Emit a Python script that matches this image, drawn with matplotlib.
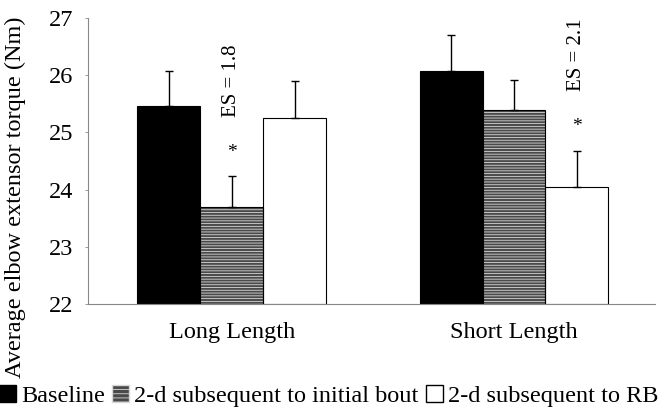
import numpy as np
import matplotlib
matplotlib.use("Agg")
import matplotlib.pyplot as plt
from matplotlib.patches import Patch

plt.rcParams['font.family'] = ['Liberation Serif', 'DejaVu Serif']
plt.rcParams['hatch.linewidth'] = 0.6

# data
groups = ['Long Length', 'Short Length']
conditions = ['Baseline', '2-d subsequent to initial bout', '2-d subsequent to RB']
means = {
    'Baseline': [25.46, 26.08],
    '2-d subsequent to initial bout': [23.70, 25.39],
    '2-d subsequent to RB': [25.25, 24.04],
}
errors = {
    'Baseline': [0.61, 0.62],
    '2-d subsequent to initial bout': [0.53, 0.53],
    '2-d subsequent to RB': [0.64, 0.64],
}
es_labels = ['ES = 1.8', 'ES = 2.1']
es_condition = ['2-d subsequent to initial bout', '2-d subsequent to RB']

fig = plt.figure(figsize=(6.61, 4.08), dpi=100)
ax = fig.add_axes([0.133, 0.255, 0.858, 0.701])

x = np.arange(len(groups))
w = 0.223
offsets = [-w, 0, w]

for i, cond in enumerate(conditions):
    xs = x + offsets[i]
    m = means[cond]
    if i == 0:
        ax.bar(xs, [v - 22 for v in m], w, bottom=22, color='black', edgecolor='black', lw=0.8, zorder=2)
    elif i == 1:
        ax.bar(xs, [v - 22 for v in m], w, bottom=22, color='#4a4a4a', edgecolor='#d8d8d8',
               hatch='------', lw=0, zorder=2)
        ax.bar(xs, [v - 22 for v in m], w, bottom=22, fill=False, edgecolor='black', lw=0.8, zorder=3)
    else:
        ax.bar(xs, [v - 22 for v in m], w, bottom=22, color='white', edgecolor='black', lw=0.8, zorder=2)
    ax.errorbar(xs, m, yerr=[np.zeros(len(m)), errors[cond]], fmt='none', ecolor='black',
                elinewidth=1, capsize=2.8, capthick=1, zorder=4)

# significance annotations
for g, (lab, cond) in enumerate(zip(es_labels, es_condition)):
    i = conditions.index(cond)
    xc = x[g] + offsets[i]
    top = means[cond][g] + errors[cond][g]
    ax.text(xc, top + 0.42, '*', ha='center', va='center', fontsize=14)
    ax.text(xc, top + 1.68, lab, rotation=90, ha='center', va='center', fontsize=15)

ax.set_ylim(22, 27)
ax.set_xlim(-0.51, 1.5)
ax.set_yticks(range(22, 28))
ax.set_xticks(x)
ax.set_xticklabels(groups, fontsize=17.5)
ax.tick_params(axis='y', labelsize=17.5, length=2.5, width=0.6, color='#888888', pad=8)
ax.tick_params(axis='x', length=0, pad=13)
for s in ['top', 'right']:
    ax.spines[s].set_visible(False)
for s in ['left', 'bottom']:
    ax.spines[s].set_color('#888888')
    ax.spines[s].set_linewidth(0.8)

fig.text(0.024, 0.517, 'Average elbow extensor torque (Nm)', rotation=90, ha='center', va='center', fontsize=17.5)

handles = [
    Patch(facecolor='black', edgecolor='black', label=conditions[0]),
    Patch(facecolor='#4a4a4a', edgecolor='#d8d8d8', hatch='----', label=conditions[1]),
    Patch(facecolor='white', edgecolor='black', label=conditions[2]),
]
fig.legend(handles=handles, loc='center', bbox_to_anchor=(0.497, 0.03), ncol=3, frameon=False,
           fontsize=17.5, handlelength=0.7, handleheight=0.7, handletextpad=0.2, columnspacing=0.3,
           borderpad=0, borderaxespad=0)

fig.savefig('out.png', dpi=100)
